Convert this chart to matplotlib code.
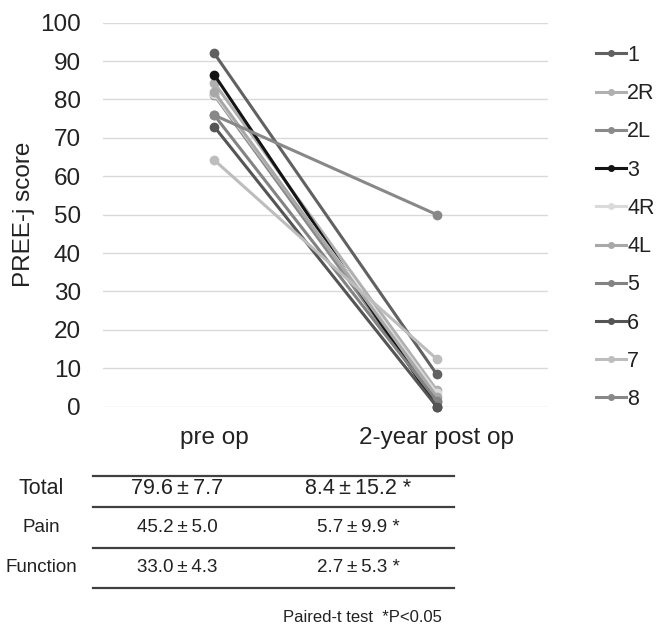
import matplotlib
matplotlib.use("Agg")
import matplotlib.pyplot as plt
from matplotlib.lines import Line2D

# data
cases = ['1', '2R', '2L', '3', '4R', '4L', '5', '6', '7', '8']
pre_op = [92.0, 84.3, 81.1, 86.4, 81.4, 81.9, 75.9, 72.9, 64.2, 75.9]
post_op = [8.4, 4.3, 1.3, 0.0, 3.5, 2.6, 1.5, 0.0, 12.4, 50.0]
colors = ['#616161', '#b0b0b0', '#8a8a8a', '#141414', '#dadada',
          '#a8a8a8', '#838383', '#555555', '#bdbdbd', '#888888']
time_labels = ['pre op', '2-year post op']

row_labels = ['Total', 'Pain', 'Function']
pre_stats = ['79.6\u2009±\u20097.7', '45.2\u2009±\u20095.0', '33.0\u2009±\u20094.3']
post_stats = ['8.4\u2009±\u200915.2 *', '5.7\u2009±\u20099.9 *', '2.7\u2009±\u20095.3 *']
footnote = 'Paired-t test  *P<0.05'

plt.rcParams['font.family'] = ['Liberation Sans', 'DejaVu Sans']
txt = '#222222'

W, H = 659, 630
fig = plt.figure(figsize=(W / 100, H / 100), dpi=100)
ax = fig.add_axes([103 / W, 1 - 406.6 / H, 445 / W, 384 / H])

x = [0, 1]
for i, c in enumerate(cases):
    ax.plot(x, [pre_op[i], post_op[i]], color=colors[i], lw=2.2,
            marker='o', ms=6, clip_on=False, label=c, zorder=3)

ax.set_xlim(-0.5, 1.5)
ax.set_ylim(0, 100)
ax.set_yticks(range(0, 101, 10))
ax.set_xticks(x)
ax.set_xticklabels(time_labels)
ax.grid(axis='y', color='#d9d9d9', lw=1)
ax.set_axisbelow(True)
for s in ax.spines.values():
    s.set_visible(False)
ax.tick_params(axis='both', length=0, labelsize=17.5, colors=txt)
ax.tick_params(axis='y', pad=16)
ax.tick_params(axis='x', pad=15)
ax.set_ylabel('PREE-j score', fontsize=17.5, color=txt)
ax.yaxis.set_label_coords((35 - 103) / 445, 0.5)

handles = [Line2D([0], [0], color=colors[i], lw=2.2, marker='o', ms=4)
           for i in range(len(cases))]
leg = fig.legend(handles, cases, loc='upper left', bbox_to_anchor=(596 / W, 1 - 45 / H),
                 frameon=False, handlelength=1.4, handletextpad=0.05,
                 borderpad=0, borderaxespad=0,
                 labelspacing=0.80, prop={'size': 15.5})
for t in leg.get_texts():
    t.set_color(txt)

# table below the chart
def fx(px):
    return px / W

def fy(py):
    return 1 - py / H

for ly in [475.7, 507, 548, 588]:
    fig.add_artist(Line2D([fx(93), fx(454)], [fy(ly), fy(ly)], color='#404040', lw=1.6))

row_y = [489, 528, 568]
row_sizes = [15.5, 13.5, 13.5]
for i in range(3):
    fig.text(fx(41), fy(row_y[i]), row_labels[i], ha='center', va='center',
             fontsize=row_sizes[i], color=txt)
    fig.text(fx(177), fy(row_y[i]), pre_stats[i], ha='center', va='center',
             fontsize=row_sizes[i], color=txt)
    fig.text(fx(358), fy(row_y[i]), post_stats[i], ha='center', va='center',
             fontsize=row_sizes[i], color=txt)

fig.text(fx(362), fy(618), footnote, ha='center', va='center',
         fontsize=12, color=txt)

fig.savefig('out.png', dpi=100, facecolor='white')
